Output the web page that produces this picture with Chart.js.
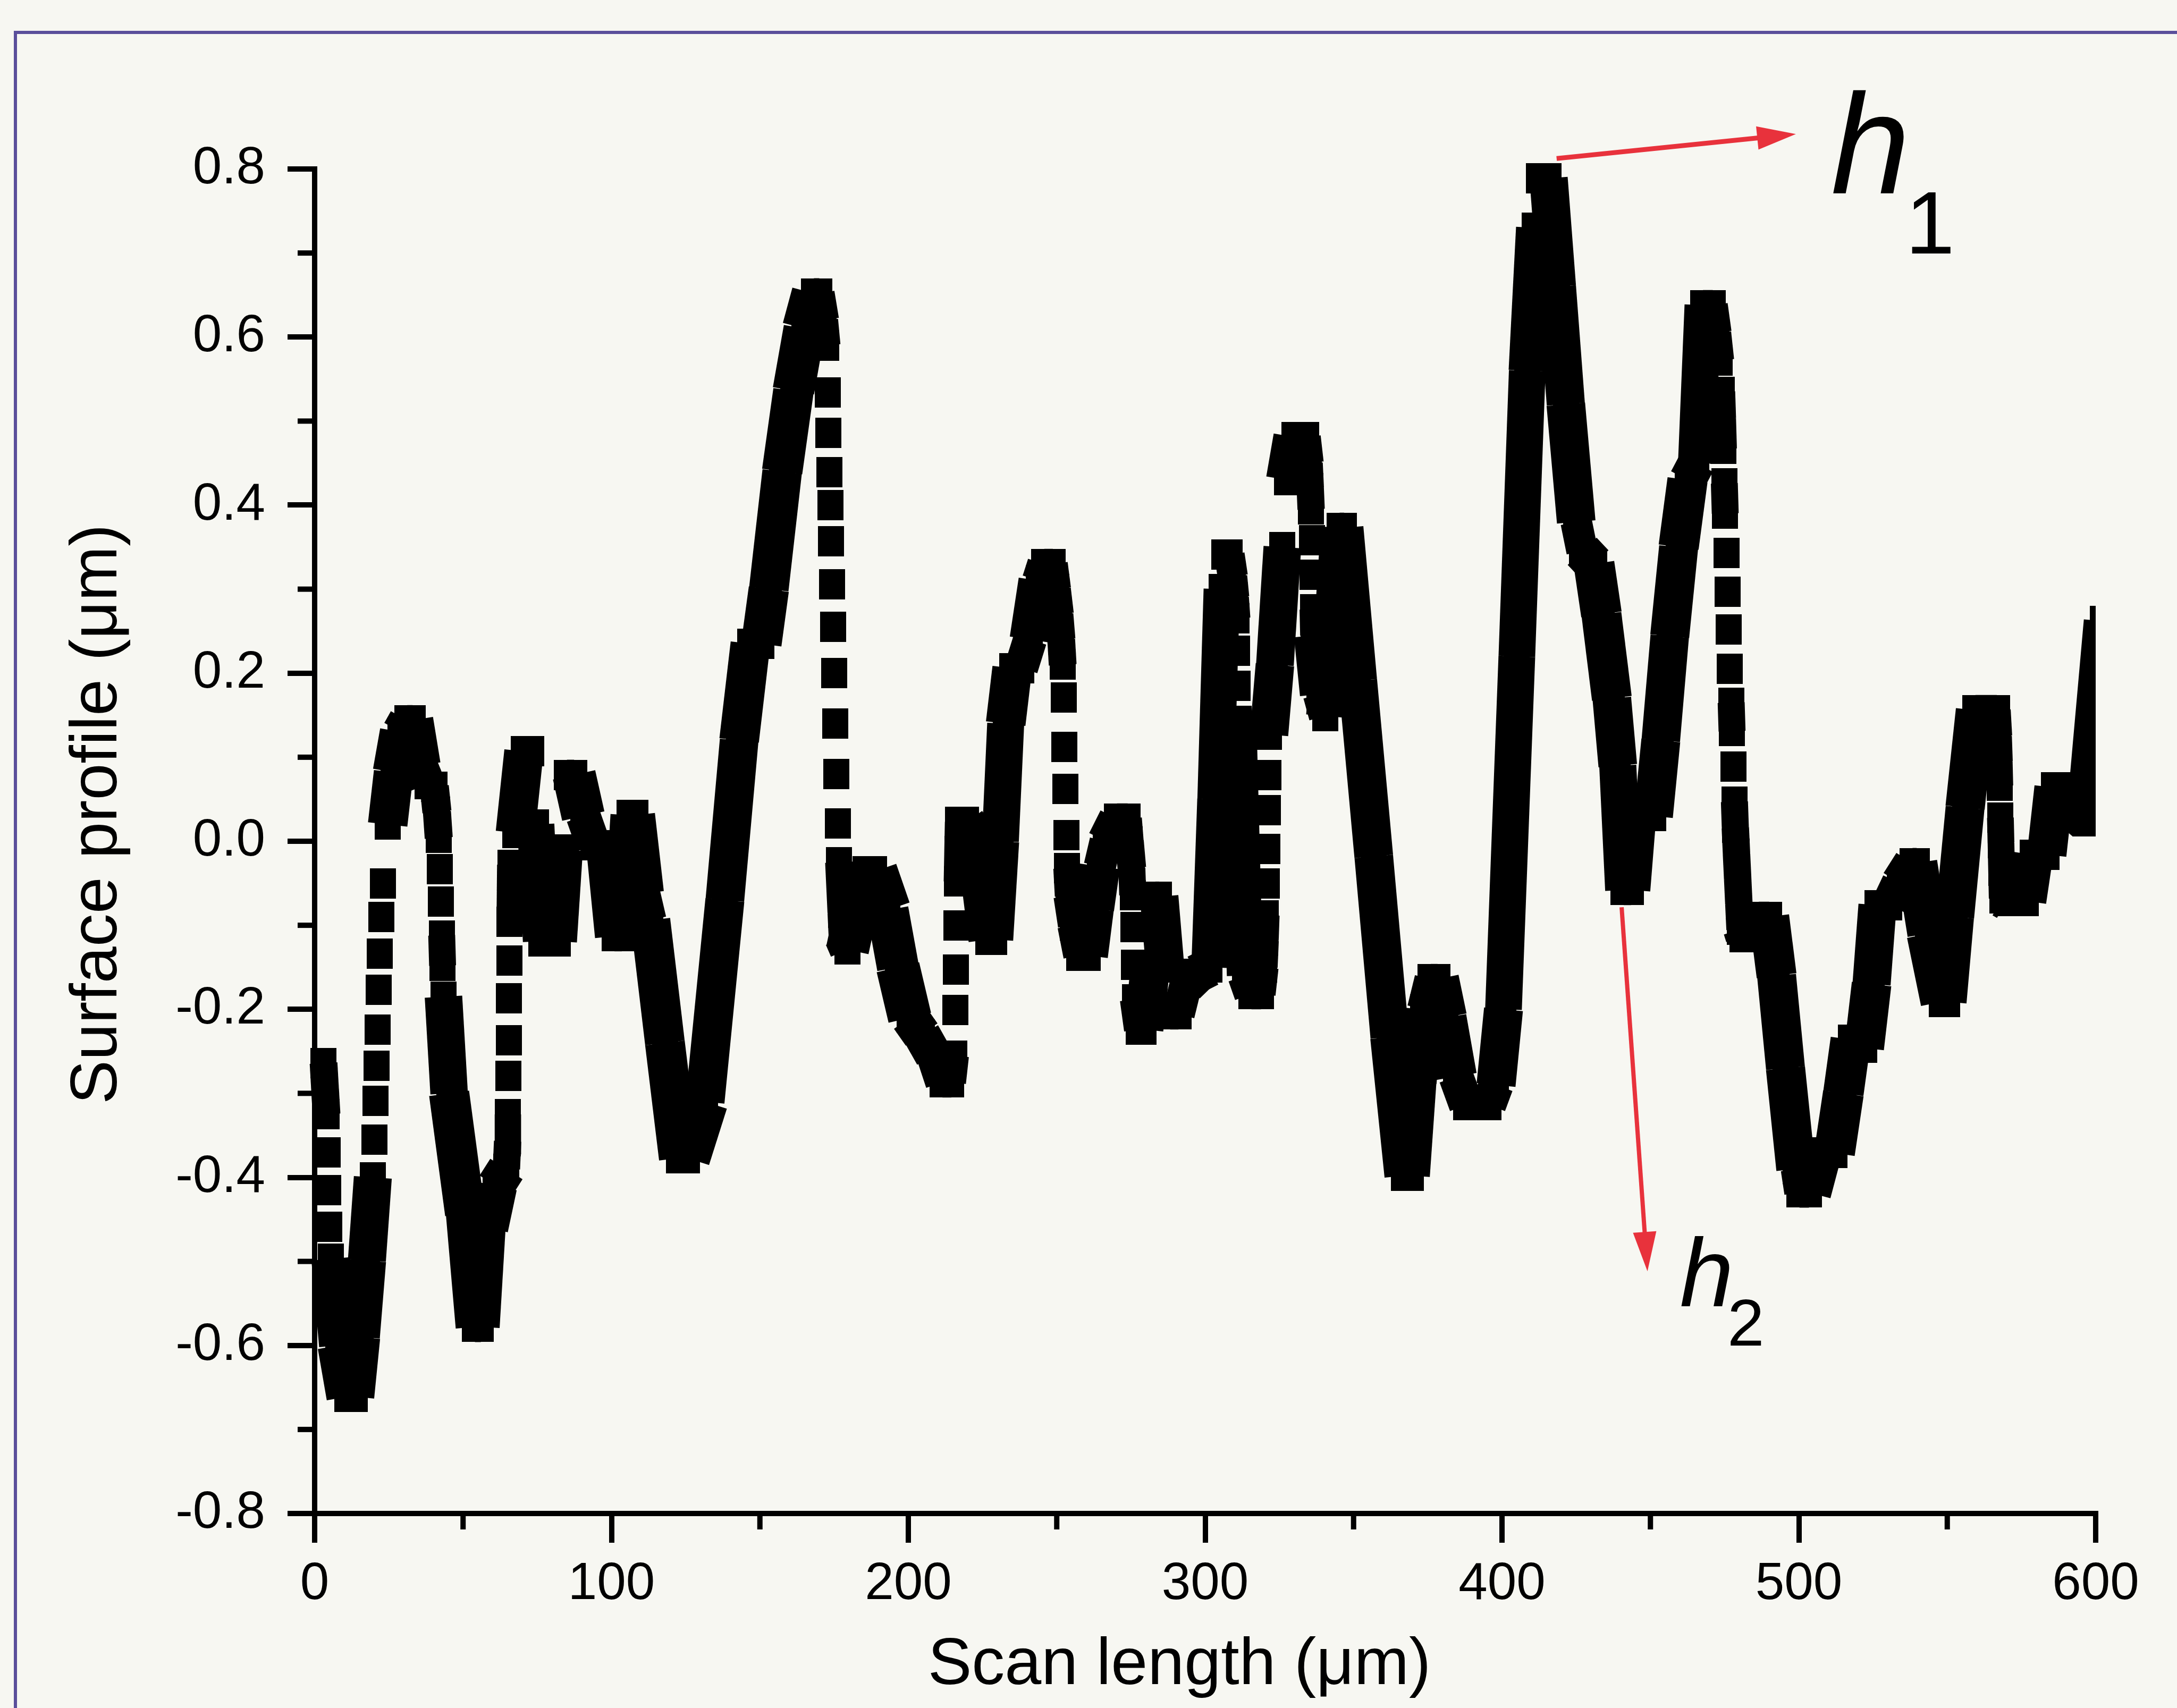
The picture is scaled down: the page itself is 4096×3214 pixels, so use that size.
<!DOCTYPE html>
<html>
<head>
<meta charset="utf-8">
<style>
html,body{margin:0;padding:0;background:#f7f7f2;}
#wrap{width:4096px;height:3214px;position:relative;}
canvas{display:block;}
</style>
<script src="https://cdn.jsdelivr.net/npm/chart.js@4.4.1/dist/chart.umd.min.js"></script>
</head>
<body>
<div id="wrap"><canvas id="c" width="4096" height="3214"></canvas></div>
<script>
// ---------------- data ----------------
const scanLength = [
  3.0,3.5,4.0,4.3,4.6,5.0,5.4,8.0,11.0,13.5,
  15.5,17.6,19.6,20.2,20.5,20.8,21.2,21.6,22.0,22.4,
  23.0,24.6,26.6,29.0,31.2,33.0,35.5,38.0,40.3,41.2,
  41.8,42.2,42.5,42.8,43.1,43.4,45.3,50.7,54.0,56.0,
  58.0,61.0,64.6,65.0,65.1,65.3,65.4,65.5,65.6,65.7,
  65.8,65.9,67.6,70.5,72.9,74.5,76.4,82.0,84.0,
  85.0,87.4,90.5,94.0,98.0,101.0,103.5,106.0,108.0,111.0,
  113.1,118.0,122.7,125.5,131.5,138.2,143.0,146.8,150.5,153.0,
  157.5,161.3,165.0,168.2,170.0,171.5,172.3,172.8,173.1,173.4,
  173.7,174.0,174.3,174.7,175.0,175.4,175.8,176.2,176.6,177.0,
  177.4,177.8,179.5,182.5,185.5,188.5,193.0,196.5,200.5,204.5,
  208.5,211.5,214.5,215.5,215.8,216.0,216.2,216.4,216.6,216.8,
  219.5,223.0,225.0,227.0,229.0,231.0,232.8,235.0,238.0,241.0,
  244.0,245.8,248.7,249.8,250.8,251.5,252.0,252.3,252.6,252.9,
  253.2,253.5,254.0,255.5,257.5,260.5,262.5,264.5,266.5,270.3,
  273.9,274.5,275.3,275.6,275.8,276.0,276.3,277.7,279.3,281.5,
  283.2,284.5,286.5,288.2,291.0,293.5,297.0,301.5,303.5,305.6,
  306.5,308.2,309.3,310.0,310.5,310.8,311.0,311.2,313.4,315.6,
  318.8,319.8,320.2,320.5,320.7,320.9,321.1,321.3,321.5,323.5,
  326.0,327.5,330.0,334.0,335.0,335.4,335.7,335.9,336.1,336.3,
  336.5,338.5,340.5,343.0,345.3,346.8,351.4,356.8,362.2,367.0,
  369.3,371.5,373.5,376.0,378.3,381.0,384.5,388.0,395.5,398.0,
  400.5,405.0,408.5,411.0,412.4,415.7,418.5,421.5,425.0,427.0,
  431.0,433.5,437.0,439.0,441.0,443.5,445.5,451.0,453.5,456.5,
  459.5,462.5,465.5,467.7,471.0,472.3,473.3,474.0,474.3,474.6,
  474.9,475.2,475.6,476.0,476.4,476.8,477.2,477.5,477.9,478.3,
  478.6,479.0,479.4,479.8,480.2,481.0,484.5,486.5,490.0,492.5,
  495.5,499.0,500.2,503.4,507.0,512.0,515.0,517.5,522.0,524.5,
  526.5,530.5,534.0,538.3,539.7,543.5,548.2,550.0,552.5,556.0,
  559.5,566.7,567.2,567.5,567.7,567.9,568.1,568.3,568.5,570.0,
  576.5,578.8,583.5,586.0,589.4,593.0,596.5,602.5
];
const profile = [
  -0.264,-0.295,-0.325,-0.370,-0.415,-0.459,-0.497,-0.600,-0.661,-0.661,
  -0.590,-0.499,-0.400,-0.355,-0.309,-0.267,-0.224,-0.177,-0.134,-0.090,
  -0.050,0.020,0.082,0.130,0.144,0.144,0.090,0.068,0.065,0.035,
  0.004,-0.033,-0.072,-0.112,-0.148,-0.185,-0.300,-0.443,-0.578,-0.578,
  -0.460,-0.410,-0.390,-0.357,-0.325,-0.279,-0.237,-0.187,-0.142,-0.096,
  -0.060,-0.028,0.010,0.107,0.107,0.020,-0.119,-0.119,-0.010,
  0.079,0.079,0.030,-0.005,-0.005,-0.113,-0.113,0.031,0.031,-0.062,
  -0.094,-0.240,-0.377,-0.377,-0.310,-0.070,0.120,0.235,0.235,0.300,
  0.440,0.536,0.610,0.652,0.652,0.620,0.590,0.534,0.486,0.439,
  0.400,0.357,0.306,0.255,0.200,0.140,0.080,0.021,-0.025,-0.055,
  -0.085,-0.115,-0.129,-0.080,-0.036,-0.036,-0.082,-0.150,-0.210,-0.230,
  -0.255,-0.287,-0.287,-0.255,-0.201,-0.153,-0.100,-0.048,-0.012,0.023,
  0.023,0.005,-0.060,-0.117,-0.117,0.000,0.140,0.206,0.206,0.240,
  0.310,0.330,0.330,0.300,0.270,0.240,0.210,0.171,0.112,0.062,
  0.007,-0.032,-0.065,-0.100,-0.136,-0.136,-0.080,-0.030,0.000,0.027,
  0.027,0.000,-0.032,-0.064,-0.102,-0.147,-0.188,-0.224,-0.224,-0.150,
  -0.066,-0.066,-0.150,-0.206,-0.206,-0.170,-0.158,-0.150,0.050,0.300,
  0.341,0.341,0.315,0.290,0.265,0.227,0.185,0.143,-0.160,-0.182,
  -0.182,-0.150,-0.118,-0.088,-0.050,-0.009,0.037,0.079,0.127,0.210,
  0.350,0.430,0.481,0.481,0.450,0.420,0.395,0.358,0.317,0.276,
  0.245,0.175,0.149,0.250,0.373,0.373,0.191,-0.018,-0.233,-0.398,
  -0.398,-0.287,-0.200,-0.164,-0.164,-0.210,-0.280,-0.314,-0.314,-0.290,
  -0.200,0.220,0.560,0.730,0.789,0.789,0.660,0.520,0.380,0.345,
  0.330,0.270,0.170,0.090,-0.058,-0.058,0.030,0.030,0.120,0.244,
  0.350,0.430,0.450,0.638,0.638,0.605,0.572,0.535,0.503,0.467,
  0.426,0.390,0.343,0.297,0.252,0.205,0.165,0.131,0.089,0.047,
  0.016,-0.015,-0.045,-0.075,-0.105,-0.114,-0.114,-0.090,-0.090,-0.160,
  -0.270,-0.390,-0.418,-0.418,-0.370,-0.371,-0.300,-0.236,-0.246,-0.170,
  -0.076,-0.076,-0.050,-0.026,-0.026,-0.110,-0.191,-0.191,-0.090,0.040,
  0.156,0.156,0.125,0.095,0.066,0.028,-0.002,-0.035,-0.068,-0.071,
  -0.071,-0.016,-0.016,0.064,0.064,0.035,0.024,0.262
];
const xTickValues = [0, 100, 200, 300, 400, 500, 600];
const xTickLabels = ['0', '100', '200', '300', '400', '500', '600'];
const yTickValues = [-0.8, -0.6, -0.4, -0.2, 0, 0.2, 0.4, 0.6, 0.8];
const yTickLabels = ['-0.8', '-0.6', '-0.4', '-0.2', '0.0', '0.2', '0.4', '0.6', '0.8'];
const xMinorTicks = [50, 150, 250, 350, 450, 550];
const yMinorTicks = [-0.7, -0.5, -0.3, -0.1, 0.1, 0.3, 0.5, 0.7];
const xTitle = 'Scan length (\u03bcm)';
const yTitle = 'Surface profile (\u03bcm)';

// annotation anchors (data units)
const arrowH1 = { from: [418.4, 0.8125], to: [499.0, 0.8416] };
const arrowH2 = { from: [440.3, -0.0786], to: [449.0, -0.5117] };
const labelH1 = { h: [510.8, 0.771], sub: [535.9, 0.6994], text: '1' };
const labelH2 = { h: [459.9, -0.5534], sub: [475.9, -0.6002], text: '2' };

// ---------------- layout / style ----------------
const W = 4096, H = 3214;
const PLOT = { left: 592, top: 318, right: 3943, bottom: 2848 };
const FONT = "'Liberation Sans', Arial, Helvetica, sans-serif";
const BG = '#f7f7f2';
const FRAME = '#5b4f9b';
const RED = '#e8323c';
const SQ_W = 49, SQ_H = 57;   // marker size (px)

Chart.defaults.font.family = FONT;

const marker = document.createElement('canvas');
marker.width = SQ_W; marker.height = SQ_H;
(function(){ const m = marker.getContext('2d'); m.fillStyle = '#000'; m.fillRect(0, 0, SQ_W, SQ_H); })();

function segGeom(c) {
  const dx = Math.abs(c.p1.x - c.p0.x), dy = Math.abs(c.p1.y - c.p0.y);
  return { dx, dy, L: Math.hypot(dx, dy) || 1 };
}
function segWidth(c) {
  const s = segGeom(c);
  const base = (SQ_W * s.dy + SQ_H * s.dx) / s.L;
  return s.dy > SQ_H ? base * 1.35 : base;
}

const bgPlugin = {
  id: 'bg',
  beforeDraw(chart) {
    const g = chart.ctx;
    g.save();
    g.fillStyle = BG;
    g.fillRect(0, 0, chart.width, chart.height);
    g.strokeStyle = FRAME;
    g.lineWidth = 6;
    g.beginPath();
    g.moveTo(29, chart.height);
    g.lineTo(29, 61);
    g.lineTo(chart.width, 61);
    g.stroke();
    g.restore();
  }
};

function drawArrow(g, x1, y1, x2, y2, lw, headLen, headHalf) {
  const a = Math.atan2(y2 - y1, x2 - x1);
  const bx = x2 - headLen * Math.cos(a), by = y2 - headLen * Math.sin(a);
  g.lineWidth = lw;
  g.beginPath(); g.moveTo(x1, y1); g.lineTo(bx + 2 * Math.cos(a), by + 2 * Math.sin(a)); g.stroke();
  g.beginPath();
  g.moveTo(x2, y2);
  g.lineTo(bx + headHalf * Math.sin(a), by - headHalf * Math.cos(a));
  g.lineTo(bx - headHalf * Math.sin(a), by + headHalf * Math.cos(a));
  g.closePath(); g.fill();
}

const overlayPlugin = {
  id: 'overlay',
  afterDraw(chart) {
    const g = chart.ctx, xs = chart.scales.x, ys = chart.scales.y;
    const px = v => xs.getPixelForValue(v), py = v => ys.getPixelForValue(v);
    g.save();
    // minor ticks
    g.strokeStyle = '#000'; g.lineWidth = 10;
    const axX = ys.right - 5;
    yMinorTicks.forEach(v => { const y = py(v); g.beginPath(); g.moveTo(axX, y); g.lineTo(axX - 27, y); g.stroke(); });
    const axY = xs.top + 5;
    xMinorTicks.forEach(v => { const x = px(v); g.beginPath(); g.moveTo(x, axY); g.lineTo(x, axY + 25); g.stroke(); });
    // axis titles
    g.fillStyle = '#000';
    g.font = '124px ' + FONT;
    g.textAlign = 'center'; g.textBaseline = 'alphabetic';
    g.fillText(xTitle, 2219, 3169);
    g.save();
    g.translate(219, 1532); g.rotate(-Math.PI / 2);
    g.fillText(yTitle, 0, 0);
    g.restore();
    // red arrows
    g.strokeStyle = RED; g.fillStyle = RED; g.lineCap = 'butt';
    drawArrow(g, px(arrowH1.from[0]), py(arrowH1.from[1]), px(arrowH1.to[0]), py(arrowH1.to[1]), 9, 73, 22);
    drawArrow(g, px(arrowH2.from[0]), py(arrowH2.from[1]), px(arrowH2.to[0]), py(arrowH2.to[1]), 8, 74, 22);
    // labels
    g.fillStyle = '#000'; g.textAlign = 'left'; g.textBaseline = 'alphabetic';
    g.font = 'italic 268px ' + FONT;
    g.fillText('h', px(labelH1.h[0]), py(labelH1.h[1]));
    g.font = '167px ' + FONT;
    g.fillText(labelH1.text, px(labelH1.sub[0]), py(labelH1.sub[1]));
    g.font = 'italic 182px ' + FONT;
    g.fillText('h', px(labelH2.h[0]), py(labelH2.h[1]));
    g.font = '125px ' + FONT;
    g.fillText(labelH2.text, px(labelH2.sub[0]), py(labelH2.sub[1]));
    g.restore();
  }
};

const points = scanLength.map((x, i) => ({ x, y: profile[i] }));

new Chart(document.getElementById('c'), {
  type: 'line',
  data: {
    datasets: [{
      data: points,
      borderColor: '#000',
      borderWidth: 50,
      borderCapStyle: 'butt',
      borderJoinStyle: 'miter',
      pointStyle: marker,
      pointRadius: 30,
      pointHoverRadius: 30,
      pointBorderWidth: 0,
      pointBackgroundColor: '#000',
      tension: 0,
      fill: false,
      clip: { left: 80, top: 80, right: 0, bottom: 80 },
      segment: {
        borderWidth: c => segWidth(c),
        borderColor: c => { const s = segGeom(c); return (s.dy > SQ_H && s.dx < 9.5) ? 'rgba(0,0,0,0)' : '#000'; }
      }
    }]
  },
  options: {
    responsive: false,
    animation: false,
    devicePixelRatio: 1,
    events: [],
    layout: { padding: { left: 0, top: PLOT.top, right: W - PLOT.right, bottom: 0 } },
    plugins: { legend: { display: false }, tooltip: { enabled: false }, title: { display: false } },
    scales: {
      x: {
        type: 'linear', position: 'bottom', min: 0, max: 600,
        afterFit: s => { s.height = H - PLOT.bottom; },
        afterBuildTicks: s => { s.ticks = xTickValues.map(v => ({ value: v })); },
        ticks: {
          callback: v => { const i = xTickValues.findIndex(t => Math.abs(t - v) < 1e-9); return i < 0 ? '' : xTickLabels[i]; },
          font: { size: 98 }, color: '#000', padding: 20, maxRotation: 0, autoSkip: false
        },
        grid: { display: true, drawOnChartArea: false, drawTicks: true, tickLength: 55, tickWidth: 10, tickColor: '#000', lineWidth: 10, color: '#000' },
        border: { display: true, color: '#000', width: 10 },
        title: { display: false }
      },
      y: {
        type: 'linear', position: 'left', min: -0.8, max: 0.8,
        afterFit: s => { s.width = PLOT.left; },
        afterBuildTicks: s => { s.ticks = yTickValues.map(v => ({ value: v })); },
        ticks: {
          callback: v => { const i = yTickValues.findIndex(t => Math.abs(t - v) < 1e-9); return i < 0 ? '' : yTickLabels[i]; },
          font: { size: 98 }, color: '#000', padding: 42, autoSkip: false
        },
        grid: { display: true, drawOnChartArea: false, drawTicks: true, tickLength: 51, tickWidth: 10, tickColor: '#000', lineWidth: 10, color: '#000' },
        border: { display: true, color: '#000', width: 10 },
        title: { display: false }
      }
    }
  },
  plugins: [bgPlugin, overlayPlugin]
});
</script>
</body>
</html>
